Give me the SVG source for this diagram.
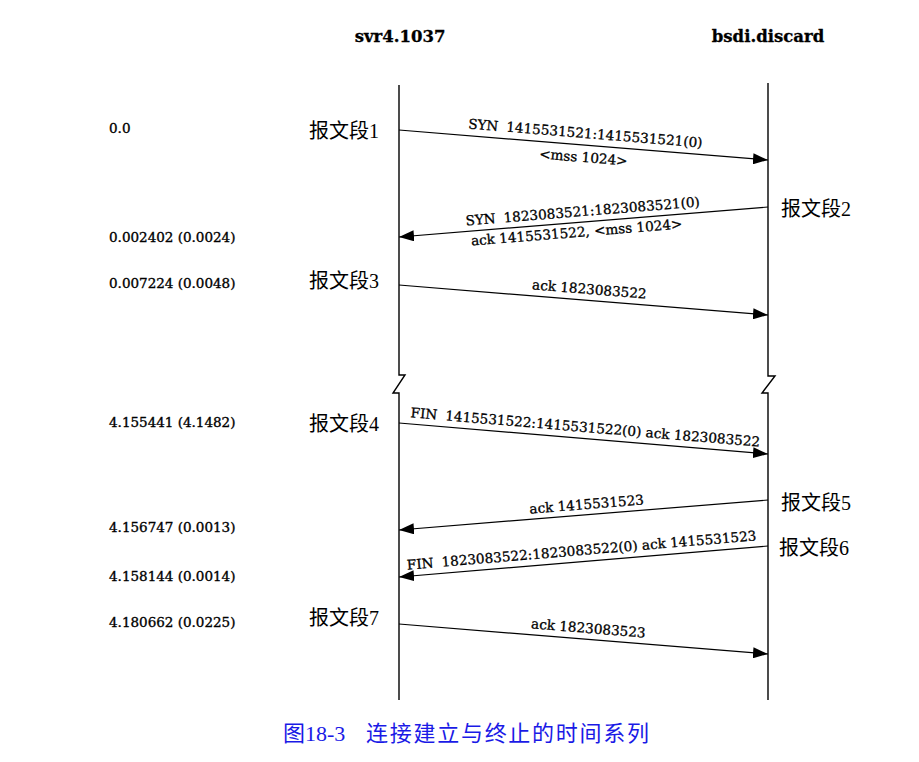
<svg xmlns="http://www.w3.org/2000/svg" width="919" height="762" viewBox="0 0 919 762">
<style>
.life{fill:none;stroke:#000;stroke-width:1.4}
.msg{fill:none;stroke:#000;stroke-width:1.2}
.hdr{font-family:"DejaVu Serif","Liberation Serif",serif;font-weight:bold;font-size:16.5px;fill:#000;text-anchor:middle;stroke:#000;stroke-width:0.3}
.tm{font-family:"DejaVu Serif","Liberation Serif",serif;font-size:13.5px;fill:#000;stroke:#000;stroke-width:0.35}
.lbl{font-family:"DejaVu Serif","Liberation Serif",serif;font-size:13.6px;fill:#000;text-anchor:middle;stroke:#000;stroke-width:0.3}
.seg{font-family:"Liberation Serif","Noto Sans CJK SC",sans-serif;font-size:20px;fill:#000}
.cap{font-family:"Liberation Serif","Noto Sans CJK SC",sans-serif;font-size:22px;fill:#1a1ae6}
</style>
<defs>
<marker id="ah" viewBox="0 0 15 11" refX="15" refY="5.5" markerWidth="15" markerHeight="11" markerUnits="userSpaceOnUse" orient="auto">
<path d="M0,0 L15,5.5 L0,11 Z" fill="#000"/>
</marker>
</defs>
<rect width="919" height="762" fill="#fff"/>
<g id="host-svr4">
<text class="hdr" x="400" y="42">svr4.1037</text>
<path class="life" d="M399,85 V375 H405 L393,393 H399 V700"/>
</g>
<g id="host-bsdi">
<text class="hdr" x="768" y="42">bsdi.discard</text>
<path class="life" d="M768,83 V376 H775 L762,393 H768 V700"/>
</g>
<g id="times">
<text class="tm" x="109" y="133">0.0</text>
<text class="tm" x="109" y="242">0.002402 (0.0024)</text>
<text class="tm" x="109" y="288">0.007224 (0.0048)</text>
<text class="tm" x="109" y="427">4.155441 (4.1482)</text>
<text class="tm" x="109" y="532">4.156747 (0.0013)</text>
<text class="tm" x="109" y="581">4.158144 (0.0014)</text>
<text class="tm" x="109" y="627">4.180662 (0.0225)</text>
</g>
<g id="segments">
<text class="seg" x="309" y="138">报文段1</text>
<text class="seg" x="781" y="216">报文段2</text>
<text class="seg" x="309" y="288">报文段3</text>
<text class="seg" x="309" y="431">报文段4</text>
<text class="seg" x="781" y="510">报文段5</text>
<text class="seg" x="779" y="555">报文段6</text>
<text class="seg" x="309" y="625">报文段7</text>
</g>
<g id="connectors">
<line class="msg" x1="399" y1="130" x2="768" y2="160" marker-end="url(#ah)"/>
<line class="msg" x1="768" y1="207" x2="399" y2="237" marker-end="url(#ah)"/>
<line class="msg" x1="399" y1="285" x2="768" y2="315" marker-end="url(#ah)"/>
<line class="msg" x1="399" y1="423" x2="768" y2="454" marker-end="url(#ah)"/>
<line class="msg" x1="768" y1="500" x2="399" y2="530" marker-end="url(#ah)"/>
<line class="msg" x1="768" y1="546" x2="399" y2="577" marker-end="url(#ah)"/>
<line class="msg" x1="399" y1="624" x2="768" y2="654" marker-end="url(#ah)"/>
</g>
<g id="labels">
<text class="lbl" transform="translate(585,138) rotate(4.65)">SYN<tspan dx="8">1415531521:1415531521(0)</tspan></text>
<text class="lbl" transform="translate(583,162) rotate(4.65)">&lt;mss 1024&gt;</text>
<text class="lbl" transform="translate(583,216) rotate(-4.65)">SYN<tspan dx="8">1823083521:1823083521(0)</tspan></text>
<text class="lbl" transform="translate(577,237) rotate(-4.65)">ack 1415531522, &lt;mss 1024&gt;</text>
<text class="lbl" transform="translate(589,294) rotate(4.65)">ack 1823083522</text>
<text class="lbl" transform="translate(585,432) rotate(4.8)">FIN<tspan dx="8">1415531522:1415531522(0) ack 1823083522</tspan></text>
<text class="lbl" transform="translate(587,509) rotate(-4.65)">ack 1415531523</text>
<text class="lbl" transform="translate(582,555) rotate(-4.8)">FIN<tspan dx="8">1823083522:1823083522(0) ack 1415531523</tspan></text>
<text class="lbl" transform="translate(588,633) rotate(4.65)">ack 1823083523</text>
</g>
<g id="caption">
<text class="cap" x="283" y="741">图18-3</text>
<text class="cap" x="366" y="741" textLength="283">连接建立与终止的时间系列</text>
</g>
</svg>
